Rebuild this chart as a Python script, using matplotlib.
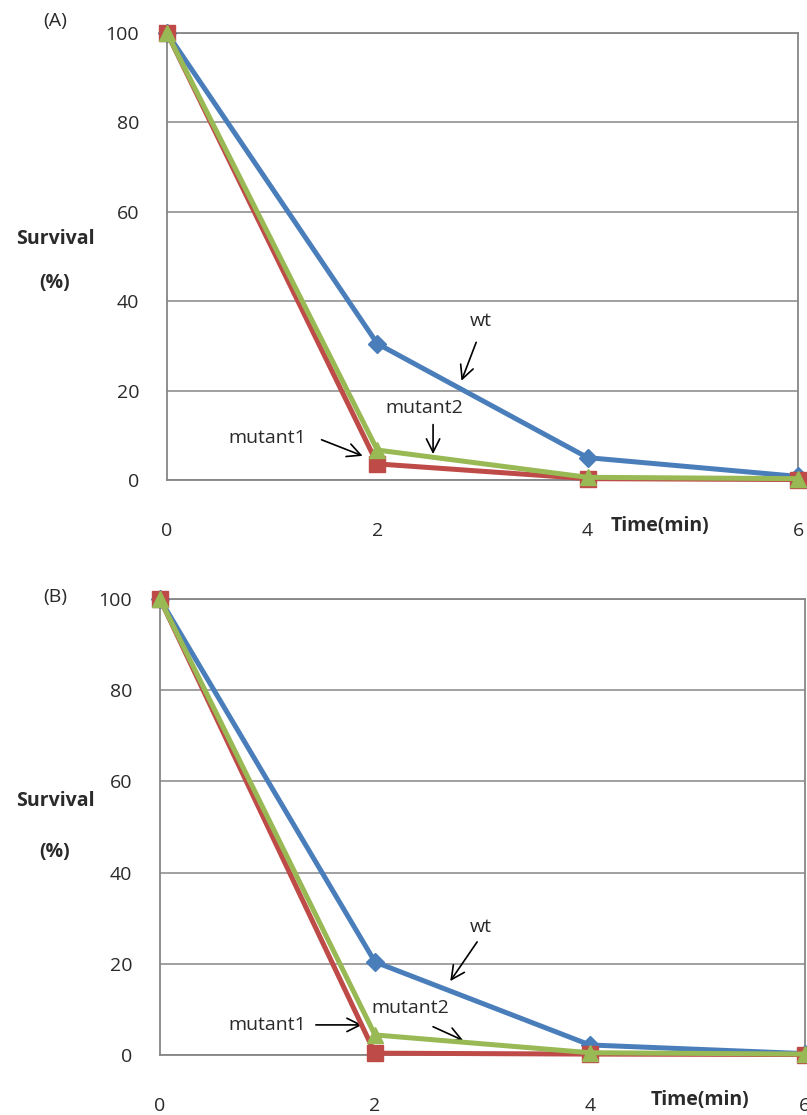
import matplotlib
matplotlib.use("Agg")
import matplotlib.pyplot as plt

# survival curves, time in minutes
time_min = [0, 2, 4, 6]

wt_a = [100, 30.5, 5.0, 0.8]
mutant1_a = [100, 3.6, 0.3, 0.1]
mutant2_a = [100, 6.7, 0.6, 0.3]

wt_b = [100, 20.4, 2.2, 0.3]
mutant1_b = [100, 0.4, 0.2, 0.1]
mutant2_b = [100, 4.4, 0.5, 0.2]

y_ticks = [0, 20, 40, 60, 80, 100]
x_ticks = [0, 2, 4, 6]

plt.rcParams['font.family'] = ['Open Sans', 'DejaVu Sans']

BLUE = '#4a7ebb'
RED = '#be4b48'
GREEN = '#98b954'
GRID = '#868686'
TXT = '#2a2a2a'

W, H = 807, 1115
fig = plt.figure(figsize=(W / 100, H / 100), dpi=100)

ARROW = dict(arrowstyle='->', color='black', lw=1.2, mutation_scale=24,
             shrinkA=0, shrinkB=0)


def px_box(left, top, right, bottom):
    return [left / W, 1 - bottom / H, (right - left) / W, (bottom - top) / H]


def setup_axes(ax):
    ax.set_xlim(0, 6)
    ax.set_ylim(0, 100)
    ax.set_yticks(y_ticks)
    ax.set_xticks(x_ticks)
    ax.grid(axis='y', color=GRID, lw=1.1)
    ax.set_axisbelow(True)
    for s in ax.spines.values():
        s.set_color(GRID)
        s.set_linewidth(1.3)
    ax.tick_params(axis='y', length=0, pad=20, labelsize=14, labelcolor=TXT)
    ax.tick_params(axis='x', length=0, pad=30, labelsize=14, labelcolor=TXT)


def draw_series(ax, wt, m1, m2):
    ax.plot(time_min, wt, color=BLUE, lw=3.6, marker='D', ms=9, clip_on=False, zorder=3)
    ax.plot(time_min, m1, color=RED, lw=3.6, marker='s', ms=12, clip_on=False, zorder=4)
    ax.plot(time_min, m2, color=GREEN, lw=3.6, marker='^', ms=11, clip_on=False, zorder=5)


def note(ax, text, pos, tail, tip):
    ax.text(pos[0], pos[1], text, fontsize=14, color=TXT, ha='center', va='center')
    ax.annotate('', xy=tip, xytext=tail, arrowprops=ARROW)


# panel A
ax_a = fig.add_axes(px_box(167, 33, 798, 480))
setup_axes(ax_a)
draw_series(ax_a, wt_a, mutant1_a, mutant2_a)
note(ax_a, 'wt', (2.98, 35.5), (2.94, 30.8), (2.80, 22.2))
note(ax_a, 'mutant2', (2.45, 16.0), (2.53, 12.4), (2.53, 5.8))
note(ax_a, 'mutant1', (0.95, 9.4), (1.47, 9.0), (1.86, 5.4))

# panel B
ax_b = fig.add_axes(px_box(160, 599, 805, 1055))
setup_axes(ax_b)
draw_series(ax_b, wt_b, mutant1_b, mutant2_b)
note(ax_b, 'wt', (2.98, 28.0), (2.95, 24.8), (2.70, 16.2))
note(ax_b, 'mutant2', (2.33, 10.2), (2.54, 6.2), (2.82, 3.2))
note(ax_b, 'mutant1', (1.0, 6.6), (1.45, 6.6), (1.88, 6.6))

# panel letters and axis titles
for letter, y_letter, y_surv, y_pct in [('(A)', 21, 239, 283),
                                        ('(B)', 597, 801, 852)]:
    fig.text(55 / W, 1 - y_letter / H, letter, fontsize=14, color=TXT,
             ha='center', va='center')
    fig.text(55 / W, 1 - y_surv / H, 'Survival', fontsize=14, fontweight='bold',
             color=TXT, ha='center', va='center')
    fig.text(55 / W, 1 - y_pct / H, '(%)', fontsize=14, fontweight='bold',
             color=TXT, ha='center', va='center')

fig.text(660 / W, 1 - 526 / H, 'Time(min)', fontsize=14, fontweight='bold',
         color=TXT, ha='center', va='center')
fig.text(700 / W, 1 - 1100 / H, 'Time(min)', fontsize=14, fontweight='bold',
         color=TXT, ha='center', va='center')

fig.savefig('out.png', dpi=100, facecolor='white')
